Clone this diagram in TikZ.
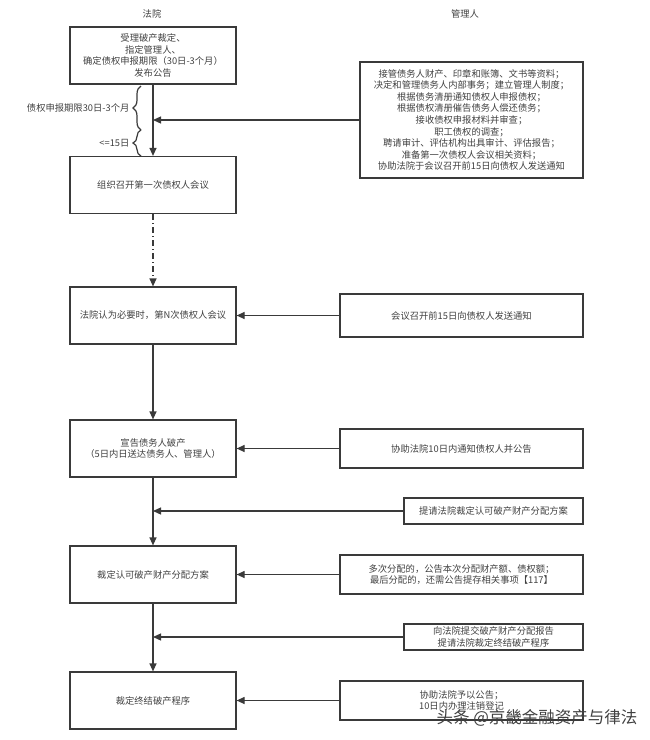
\documentclass[tikz,border=0pt]{standalone}
\usepackage{fontspec}
\setmainfont{Noto Sans CJK SC}
\usetikzlibrary{arrows.meta,decorations.pathreplacing}
\definecolor{linegray}{HTML}{3A3A3A}
\definecolor{textgray}{HTML}{404040}
\tikzset{
  box/.style={draw=linegray,line width=1.2pt,align=center,text=textgray,font=\fontsize{9.3}{11.6}\selectfont,inner sep=2pt},
  court/.style={box,minimum width=166pt,minimum height=57pt},
  flow/.style={draw=linegray,line width=1.2pt,-{Triangle[width=7pt,length=8pt]}},
  bracket/.style={draw=linegray,line width=1.2pt,decorate,decoration={brace,amplitude=8pt}},
  lab/.style={text=textgray,font=\fontsize{9.3}{11.6}\selectfont,inner sep=1pt}
}
\begin{document}
\begin{tikzpicture}[x=1pt,y=-1pt]
	\useasboundingbox (0,0) rectangle (650,740);
	\node[lab] (T1) at (152,14) {法院};
	\node[lab] (T2) at (465,14) {管理人};

	\node[court] (A) at (153,55.5) {受理破产裁定、\\指定管理人、\\确定债权申报期限（30日-3个月）\\发布公告};
	\node[court] (B) at (153,185) {组织召开第一次债权人会议};
	\node[court] (C) at (153,315.5) {法院认为必要时，第N次债权人会议};
	\node[court] (D) at (153,448.5) {宣告债务人破产\\（5日内日送达债务人、管理人）};
	\node[court] (E) at (153,574.5) {裁定认可破产财产分配方案};
	\node[court] (F) at (153,700.5) {裁定终结破产程序};

	\node[box,minimum width=223pt,minimum height=116pt] (M1) at (471.5,120) {接管债务人财产、印章和账簿、文书等资料；\\决定和管理债务人内部事务；建立管理人制度；\\根据债务清册通知债权人申报债权；\\根据债权清册催告债务人偿还债务；\\接收债权申报材料并审查；\\职工债权的调查；\\聘请审计、评估机构出具审计、评估报告；\\准备第一次债权人会议相关资料；\\协助法院于会议召开前15日向债权人发送通知};
	\node[box,minimum width=243pt,minimum height=43pt] (M2) at (461.5,315.5) {会议召开前15日向债权人发送通知};
	\node[box,minimum width=243pt,minimum height=39pt] (M3) at (461.5,448.5) {协助法院10日内通知债权人并公告};
	\node[box,minimum width=179pt,minimum height=26pt] (M4) at (493.5,511) {提请法院裁定认可破产财产分配方案};
	\node[box,minimum width=243pt,minimum height=39pt] (M5) at (461.5,574.5) {多次分配的，公告本次分配财产额、债权额；\\最后分配的，还需公告提存相关事项【117】};
	\node[box,minimum width=179pt,minimum height=26pt] (M6) at (493.5,637) {向法院提交破产财产分配报告\\提请法院裁定终结破产程序};
	\node[box,minimum width=243pt,minimum height=39pt] (M7) at (461.5,700.5) {协助法院予以公告；\\10日内办理注销登记};

	% time limits beside the first step
	\coordinate (b1) at (141,86);
	\coordinate (b2) at (141,130);
	\coordinate (b3) at (141,156);
	\draw[bracket] (b2) -- (b1) node[lab,midway,left=10pt] (L1) {债权申报期限30日-3个月};
	\draw[bracket] (b3) -- (b2) node[lab,midway,left=10pt] (L2) {<=15日};

	\draw[flow] (A) -- (B);
	\draw[flow,dash pattern=on 6pt off 3pt on 1pt off 3pt] (B) -- (C);
	\draw[flow] (C) -- (D);
	\draw[flow] (D) -- (E);
	\draw[flow] (E) -- (F);

	\draw[flow] (M1.west) -- (M1.west -| A.south);
	\draw[flow] (M2) -- (C);
	\draw[flow] (M3) -- (D);
	\draw[flow] (M4.west) -- (M4.west -| D.south);
	\draw[flow] (M5) -- (E);
	\draw[flow] (M6.west) -- (M6.west -| E.south);
	\draw[flow] (M7) -- (F);

	\node[text=textgray,font=\fontsize{16.5}{16.5}\selectfont,inner sep=0pt] (W) at (537,718) {头条 @京畿金融资产与律法};
\end{tikzpicture}
\end{document}
